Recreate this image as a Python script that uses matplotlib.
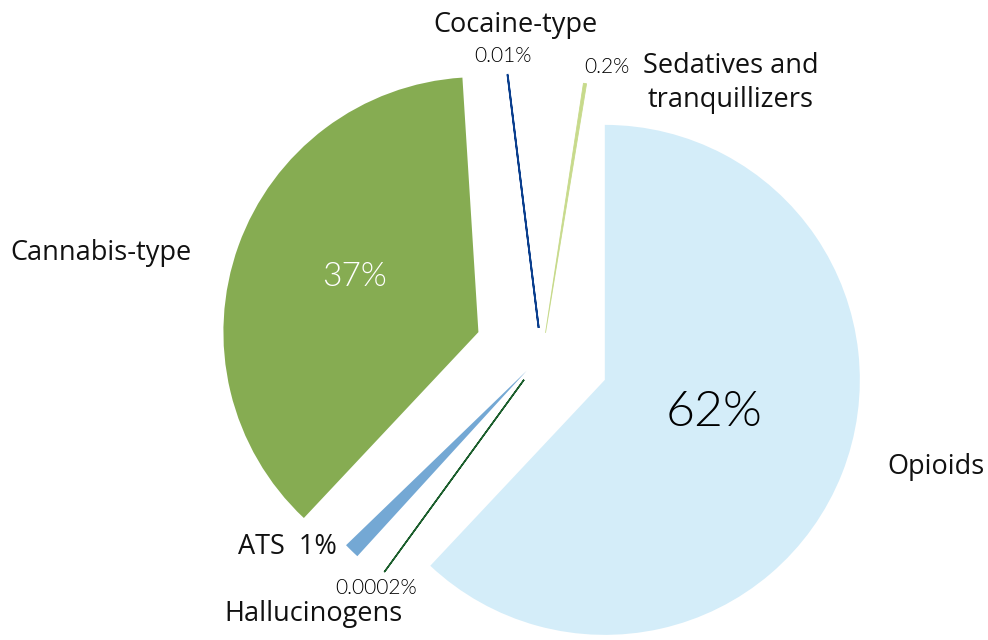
import matplotlib.pyplot as plt

# shares of drug types, percent
categories = ['Opioids', 'Cannabis-type', 'ATS', 'Hallucinogens', 'Cocaine-type',
              'Sedatives and tranquillizers']
shares = [62, 37, 1, 0.0002, 0.01, 0.2]
share_labels = ['62%', '37%', '1%', '0.0002%', '0.01%', '0.2%']
colors = ['#D4EDF9', '#86AC52', '#74A8D4', '#1B5E2C', '#0B3F8E', '#C7DA8B']

W, H = 988, 640
R = 255.0            # pie radius in pixels
CX, CY = 542, 355    # pie centre in pixels


def p(x, y):
    # pixel position -> data position (radius 1 == R pixels)
    return (x - CX) / R, (CY - y) / R


fig = plt.figure(figsize=(W / 100, H / 100), dpi=100)
ax = fig.add_axes([0, 0, 1, 1])

# the two large slices
ax.pie([s / 100 for s in shares[:2]], colors=colors[:2], explode=[0.265, 0.265],
       startangle=90, counterclock=False, normalize=False,
       wedgeprops=dict(linewidth=0))

# small slices are pulled out and turned so they stay visible
mid_angle = [225.8, 234, 97, 81]
explode = [0.086, 0.12, 0.107, 0.088]
radius = [0.985, 0.93, 1.0, 0.99]
line_w = [0, 1.1, 1.3, 0.6]
for i in range(2, 6):
    frac = shares[i] / 100
    k = i - 2
    ax.pie([frac], colors=[colors[i]], explode=[explode[k]], radius=radius[k],
           startangle=mid_angle[k] - 180 * frac, normalize=False,
           wedgeprops=dict(edgecolor=colors[i], linewidth=line_w[k]))

ax.set_xlim(-CX / R, (W - CX) / R)
ax.set_ylim((CY - H) / R, CY / R)
ax.set_aspect('equal')
ax.axis('off')

lab = dict(family=['Open Sans', 'DejaVu Sans'], color='#111111', fontsize=19.5)
pct = dict(family=['Lato', 'DejaVu Sans'], color='#000000', fontweight=300)

ax.text(*p(714, 412), share_labels[0], ha='center', va='center', fontsize=36, **pct)
pct_w = dict(pct, color='white')
ax.text(*p(355, 277), share_labels[1], ha='center', va='center', fontsize=24, **pct_w)

ax.text(*p(936, 467), categories[0], ha='center', va='center', **lab)
ax.text(*p(101, 253), categories[1], ha='center', va='center', **lab)
ax.text(*p(337, 547), categories[2] + '  ' + share_labels[2], ha='right', va='center', **lab)
ax.text(*p(376, 588), share_labels[3], ha='center', va='center', fontsize=15, **pct)
ax.text(*p(313, 614), categories[3], ha='center', va='center', **lab)
ax.text(*p(515, 25), categories[4], ha='center', va='center', **lab)
ax.text(*p(503, 56), share_labels[4], ha='center', va='center', fontsize=15, **pct)
ax.text(*p(607, 67), share_labels[5], ha='center', va='center', fontsize=15, **pct)
ax.text(*p(731, 83), 'Sedatives and\ntranquillizers', ha='center', va='center',
        linespacing=1.3, **lab)

fig.savefig('out.png', dpi=100)
